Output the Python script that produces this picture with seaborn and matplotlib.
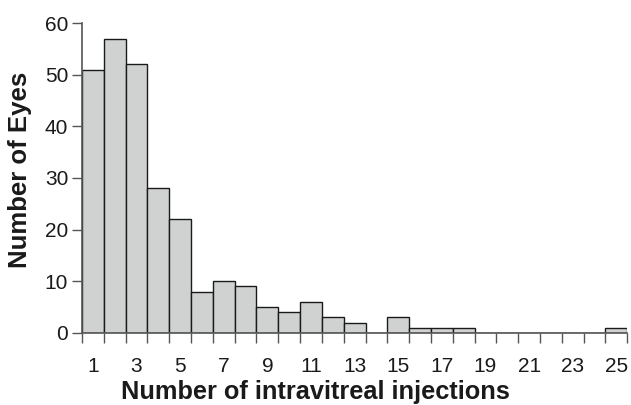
import pandas as pd
import matplotlib
matplotlib.use("Agg")
import matplotlib.pyplot as plt
import seaborn as sns

injections = list(range(1, 26))
eyes = [51, 57, 52, 28, 22, 8, 10, 9, 5, 4, 6, 3, 2, 0, 3, 1, 1, 1, 0, 0, 0, 0, 0, 0, 1]
tick_labels = [str(n) for n in range(1, 26, 2)]

df = pd.DataFrame({"injections": injections, "eyes": eyes})

sns.set_style("ticks")
plt.rcParams["font.family"] = ["Liberation Sans", "DejaVu Sans"]

fig = plt.figure(figsize=(6.31, 4.05), dpi=100)
ax = fig.add_axes([0.130, 0.178, 0.864, 0.765])

sns.barplot(x="injections", y="eyes", data=df, color="#d0d2d2", width=1.0,
            edgecolor="#1a1a1a", linewidth=1.0, saturation=1, ax=ax)

ax.set_xlim(-0.5, 24.5)
ax.set_ylim(0, 60)
ax.set_yticks(range(0, 61, 10))
ax.set_xticks(range(0, 25, 2))
ax.set_xticklabels(tick_labels)
ax.set_xticks([i - 0.5 for i in range(26)], minor=True)
ax.tick_params(axis="x", which="major", length=0, labelsize=15, pad=17, labelcolor="#1a1a1a")
ax.tick_params(axis="x", which="minor", length=7, width=1, color="#555555", direction="out")
ax.tick_params(axis="y", length=7, width=1, color="#555555", labelsize=15, labelcolor="#1a1a1a", pad=3)

for s in ["top", "right"]:
    ax.spines[s].set_visible(False)
for s in ["left", "bottom"]:
    ax.spines[s].set_color("#555555")
    ax.spines[s].set_linewidth(1.2)

ax.set_xlabel("Number of intravitreal injections", fontsize=18.3, fontweight="bold", color="#1a1a1a")
ax.set_ylabel("Number of Eyes", fontsize=18.5, fontweight="bold", color="#1a1a1a")
ax.xaxis.set_label_coords(0.4275, -0.152)
ax.yaxis.set_label_coords(-0.092, 0.526)

fig.savefig("out.png", dpi=100)
